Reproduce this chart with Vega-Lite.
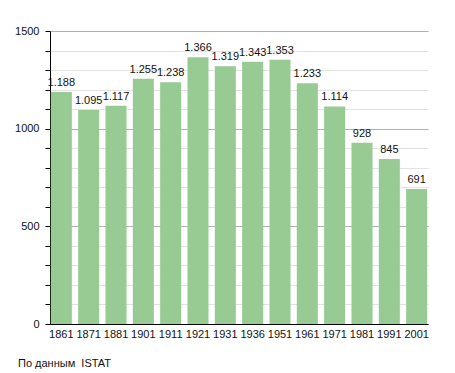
{
  "$schema": "https://vega.github.io/schema/vega-lite/v6.json",
  "width": 378,
  "height": 293,
  "autosize": {"type": "none"},
  "padding": {"left": 50, "top": 31, "right": 27, "bottom": 49},
  "config": {
    "font": "Liberation Sans",
    "view": {"stroke": null},
    "locale": {"number": {"decimal": ",", "thousands": ".", "grouping": [3], "currency": ["", " €"]}}
  },
  "title": {
    "text": "По данным\u00a0 ISTAT",
    "orient": "bottom",
    "anchor": "start",
    "frame": "group",
    "dx": -32,
    "offset": 19,
    "fontSize": 11,
    "fontWeight": "normal",
    "color": "#111"
  },
  "data": {
    "values": [
      {"year": "1861", "pop": 1188},
      {"year": "1871", "pop": 1095},
      {"year": "1881", "pop": 1117},
      {"year": "1901", "pop": 1255},
      {"year": "1911", "pop": 1238},
      {"year": "1921", "pop": 1366},
      {"year": "1931", "pop": 1319},
      {"year": "1936", "pop": 1343},
      {"year": "1951", "pop": 1353},
      {"year": "1961", "pop": 1233},
      {"year": "1971", "pop": 1114},
      {"year": "1981", "pop": 928},
      {"year": "1991", "pop": 845},
      {"year": "2001", "pop": 691}
    ]
  },
  "encoding": {
    "x": {
      "field": "year", "type": "nominal", "sort": null,
      "scale": {"paddingInner": 0.23, "paddingOuter": 0.03},
      "axis": {"title": null, "labelAngle": 0, "ticks": false, "domainColor": "#000", "labelFontSize": 11, "labelColor": "#111", "labelPadding": 4}
    },
    "y": {
      "field": "pop", "type": "quantitative",
      "scale": {"domain": [0, 1500], "nice": false},
      "axis": {
        "title": null,
        "values": [0,100,200,300,400,500,600,700,800,900,1000,1100,1200,1300,1400,1500],
        "labelExpr": "datum.value % 500 === 0 ? format(datum.value, 'd') : ''",
        "gridColor": {"condition": {"test": "datum.value % 500 === 0", "value": "#b0b0b0"}, "value": "#e2e2e2"},
        "domainColor": "#000",
        "tickColor": "#000",
        "tickSize": 5,
        "labelFontSize": 11,
        "labelColor": "#111",
        "labelPadding": 6
      }
    }
  },
  "layer": [
    {"mark": {"type": "bar", "color": "#98cb94"}},
    {
      "mark": {"type": "text", "dy": -9, "fontSize": 11, "color": "#111"},
      "encoding": {"text": {"field": "pop", "type": "quantitative", "format": ",d"}}
    }
  ]
}
